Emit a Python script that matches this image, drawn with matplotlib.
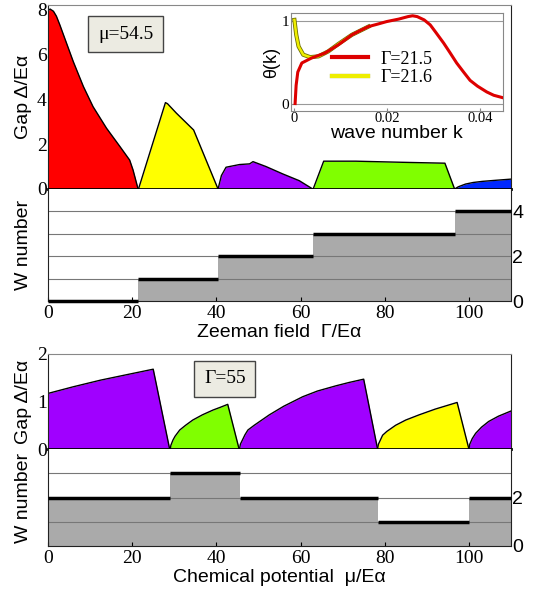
import matplotlib
matplotlib.use("Agg")
import matplotlib.pyplot as plt
import matplotlib.patheffects as pe

SERIF = "Liberation Serif"
SANS = "Liberation Sans"

# ---------------- data: top panel (mu = 54.5, sweep of Gamma) ----------------
red_x = [0, 0.5, 1.3, 2.0, 2.8, 4.4, 6.0, 8.4, 10.7, 13.9, 17.1, 19.4, 20.2, 21.4]
red_y = [7.95, 8.02, 7.92, 7.7, 7.32, 6.5, 5.68, 4.57, 3.67, 2.71, 1.89, 1.29, 0.85, 0]
yel_x = [21.5, 27.9, 28.4, 30.5, 34.6, 40.4]
yel_y = [0, 3.85, 3.8, 3.38, 2.63, 0]
pur_x = [40.4, 41.2, 42.3, 45.5, 47.9, 48.7, 51.8, 55.8, 59.7, 61.6, 62.9]
pur_y = [0, 0.6, 0.97, 1.09, 1.12, 1.22, 1.0, 0.67, 0.37, 0.15, 0]
grn_x = [63.0, 65.5, 73.1, 84.2, 94.3, 96.6]
grn_y = [0, 1.24, 1.24, 1.19, 1.15, 0]
blu_x = [96.6, 97.5, 99.2, 101.0, 103.2, 106.5, 110]
blu_y = [0, 0.1, 0.22, 0.29, 0.34, 0.39, 0.44]
w_top_edges = [0, 21.5, 40.4, 63.0, 96.8, 110]
w_top_vals = [0, 1, 2, 3, 4]

# ---------------- data: bottom panel (Gamma = 55, sweep of mu) ----------------
b_pur1_x = [0, 6.0, 12.5, 19.0, 25.0, 28.9]
b_pur1_y = [1.17, 1.31, 1.45, 1.57, 1.68, 0]
b_grn_x = [29.05, 29.2, 29.7, 30.2, 31.3, 32.7, 34.4, 36.7, 39.2, 41.0, 42.7, 45.4]
b_grn_y = [0, 0.08, 0.19, 0.27, 0.40, 0.50, 0.61, 0.72, 0.82, 0.88, 0.94, 0]
b_pur2_x = [45.5, 45.7, 46.8, 47.5, 49.0, 52.6, 56.0, 60.5, 64.0, 68.4, 71.5, 75.0, 78.3]
b_pur2_y = [0, 0.1, 0.3, 0.4, 0.5, 0.72, 0.9, 1.10, 1.22, 1.33, 1.40, 1.47, 0]
b_yel_x = [78.3, 78.5, 79.5, 80.5, 82.6, 85.0, 88.2, 92.0, 97.2, 100.0]
b_yel_y = [0, 0.1, 0.29, 0.37, 0.5, 0.61, 0.72, 0.84, 0.98, 0]
b_pur3_x = [100.0, 100.2, 100.8, 101.6, 103.0, 104.7, 107.0, 110]
b_pur3_y = [0, 0.1, 0.22, 0.33, 0.46, 0.58, 0.69, 0.80]
w_bot_edges = [0, 29.05, 45.5, 78.4, 100.1, 110]
w_bot_vals = [2, 3, 2, 1, 2]

# ---------------- data: inset theta(k) ----------------
ink_red_k = [0.00015, 0.00037, 0.00073, 0.0016, 0.0037, 0.0066, 0.0095, 0.0124, 0.0145,
             0.016, 0.018, 0.0199, 0.0225, 0.0245, 0.0255, 0.0265, 0.028, 0.0293,
             0.0305, 0.0322, 0.0335, 0.035, 0.0365, 0.0379, 0.0395, 0.0415, 0.043, 0.045]
ink_red_t = [0, 0.22, 0.38, 0.49, 0.55, 0.61, 0.71, 0.83, 0.89,
             0.93, 0.96, 0.99, 1.02, 1.05, 1.06, 1.05, 1.01, 0.95,
             0.86, 0.73, 0.62, 0.49, 0.38, 0.28, 0.21, 0.14, 0.10, 0.07]
ink_yel_k = [0.0, 0.0004, 0.0009, 0.0019, 0.0034, 0.0052, 0.0073, 0.0095, 0.0124, 0.016]
ink_yel_t = [1.01, 0.83, 0.69, 0.59, 0.56, 0.57, 0.63, 0.72, 0.83, 0.93]

x_ticks = [0, 20, 40, 60, 80, 100]

C_RED, C_YEL, C_PUR, C_GRN, C_BLU = "#ff0000", "#ffff00", "#a000ff", "#80ff00", "#0028ff"
C_GRAY = "#aaaaaa"

W, H = 542, 600
fig = plt.figure(figsize=(W / 100, H / 100), dpi=100)


def rect(l, t, r, b):
    return [l / W, 1 - b / H, (r - l) / W, (b - t) / H]


def gap_axes(ax, regions, ymax, yticks):
    for xs, ys, c in regions:
        ax.fill_between(xs, ys, 0, color=c, lw=0, zorder=1)
        ax.plot(xs, ys, color="k", lw=1.0, zorder=2)
    ax.set_xlim(0, 110)
    ax.set_ylim(0, ymax)
    ax.set_xticks([])
    ax.set_yticks(yticks)
    ax.set_yticklabels([str(v) for v in yticks], fontfamily=SERIF, fontsize=14)
    ax.tick_params(axis="y", length=0, pad=1)
    ax.set_ylabel("Gap Δ/Eα", fontfamily=SANS, fontsize=14, labelpad=0)
    for s in ["left", "right"]:
        ax.spines[s].set_color("#222")
    ax.spines["top"].set_color("#888")
    ax.spines["bottom"].set_linewidth(2)
    ax.spines["bottom"].set_color("k")


def w_axes(ax, edges, vals, ymax, grid, rticks, xlabel):
    ax.fill_between(edges, vals + [vals[-1]], 0, step="post", color=C_GRAY, lw=0, zorder=1)
    ax.hlines(grid, 0, 110, color="#777", lw=0.8, zorder=2)
    ax.hlines(vals, edges[:-1], edges[1:], color="k", lw=2.5, zorder=3, clip_on=False)
    ax.set_xlim(0, 110)
    ax.set_ylim(0, ymax)
    ax.yaxis.tick_right()
    ax.yaxis.set_label_position("left")
    ax.set_yticks(rticks)
    ax.set_yticklabels([str(v) for v in rticks], fontfamily=SANS, fontsize=14)
    ax.tick_params(axis="y", length=0, pad=1)
    ax.set_xticks(x_ticks)
    ax.set_xticklabels([str(v) for v in x_ticks], fontfamily=SERIF, fontsize=14)
    ax.tick_params(axis="x", direction="in", length=3, pad=3)
    ax.set_ylabel("W number", fontfamily=SANS, fontsize=14, labelpad=14)
    ax.set_xlabel(xlabel, fontfamily=SANS, fontsize=14, labelpad=1)
    ax.spines["top"].set_visible(False)
    for s in ["left", "right", "bottom"]:
        ax.spines[s].set_color("#222")


# top gap panel
ax1 = fig.add_axes(rect(48, 5, 511, 189))
gap_axes(ax1, [(red_x, red_y, C_RED), (yel_x, yel_y, C_YEL), (pur_x, pur_y, C_PUR),
               (grn_x, grn_y, C_GRN), (blu_x, blu_y, C_BLU)], 8.2, [0, 2, 4, 6, 8])
ax1.text(0.168, 0.842, "μ=54.5", transform=ax1.transAxes, ha="center", va="center",
         fontfamily=SERIF, fontsize=14,
         bbox=dict(boxstyle="square,pad=0.5", fc="#ecebe2", ec="#444", lw=1))

# top W panel
ax2 = fig.add_axes(rect(48, 189, 511, 301))
w_axes(ax2, w_top_edges, w_top_vals, 5, [1, 2, 3, 4], [0, 2, 4], "Zeeman field  Γ/Eα")

# bottom gap panel
ax3 = fig.add_axes(rect(48, 354, 511, 449))
gap_axes(ax3, [(b_pur1_x, b_pur1_y, C_PUR), (b_grn_x, b_grn_y, C_GRN),
               (b_pur2_x, b_pur2_y, C_PUR), (b_yel_x, b_yel_y, C_YEL),
               (b_pur3_x, b_pur3_y, C_PUR)], 2, [0, 1, 2])
ax3.text(0.382, 0.737, "Γ=55", transform=ax3.transAxes, ha="center", va="center",
         fontfamily=SERIF, fontsize=14,
         bbox=dict(boxstyle="square,pad=0.5", fc="#ecebe2", ec="#444", lw=1))

# bottom W panel
ax4 = fig.add_axes(rect(48, 449, 511, 546))
w_axes(ax4, w_bot_edges, w_bot_vals, 4, [1, 2, 3], [0, 2], "Chemical potential  μ/Eα")

for ax in (ax1, ax2, ax3, ax4):
    ax.yaxis.set_label_coords(-0.035, 0.5)

# inset
axi = fig.add_axes(rect(290.7, 13.3, 503, 111))
axi.axhline(0, color="#999", lw=0.8, zorder=1)
axi.axhline(1, color="#999", lw=0.8, zorder=1)
axi.plot(ink_yel_k, ink_yel_t, color="#eeee00", lw=1.8, zorder=3,
         path_effects=[pe.Stroke(linewidth=3.0, foreground="#6e6e00"), pe.Normal()],
         label="Γ=21.6")
axi.plot(ink_red_k, ink_red_t, color="#dd0000", lw=2.2, zorder=4, label="Γ=21.5")
axi.set_xlim(-0.0008, 0.045)
axi.set_ylim(-0.09, 1.09)
axi.set_xticks([0, 0.02, 0.04])
axi.set_xticklabels(["0", "0.02", "0.04"], fontfamily=SERIF, fontsize=10.5)
axi.set_yticks([0, 1])
axi.set_yticklabels(["0", "1"], fontfamily=SERIF, fontsize=11)
axi.tick_params(direction="in", length=2, pad=1, color="#888")
for s in axi.spines.values():
    s.set_color("#888")
    s.set_linewidth(0.8)
axi.set_xlabel("wave number k", fontfamily=SANS, fontsize=14, labelpad=0)
axi.set_ylabel("θ(k)", fontfamily=SANS, fontsize=13, labelpad=1)
h, l = axi.get_legend_handles_labels()
leg = axi.legend([h[1], h[0]], [l[1], l[0]], loc="center", bbox_to_anchor=(0.43, 0.435),
                 frameon=False, prop={"family": SERIF, "size": 13}, handlelength=2.0,
                 handletextpad=0.7, labelspacing=0.1, borderpad=0)
for line in leg.get_lines():
    line.set_linewidth(3.0)

fig.savefig("out.png", dpi=100)
